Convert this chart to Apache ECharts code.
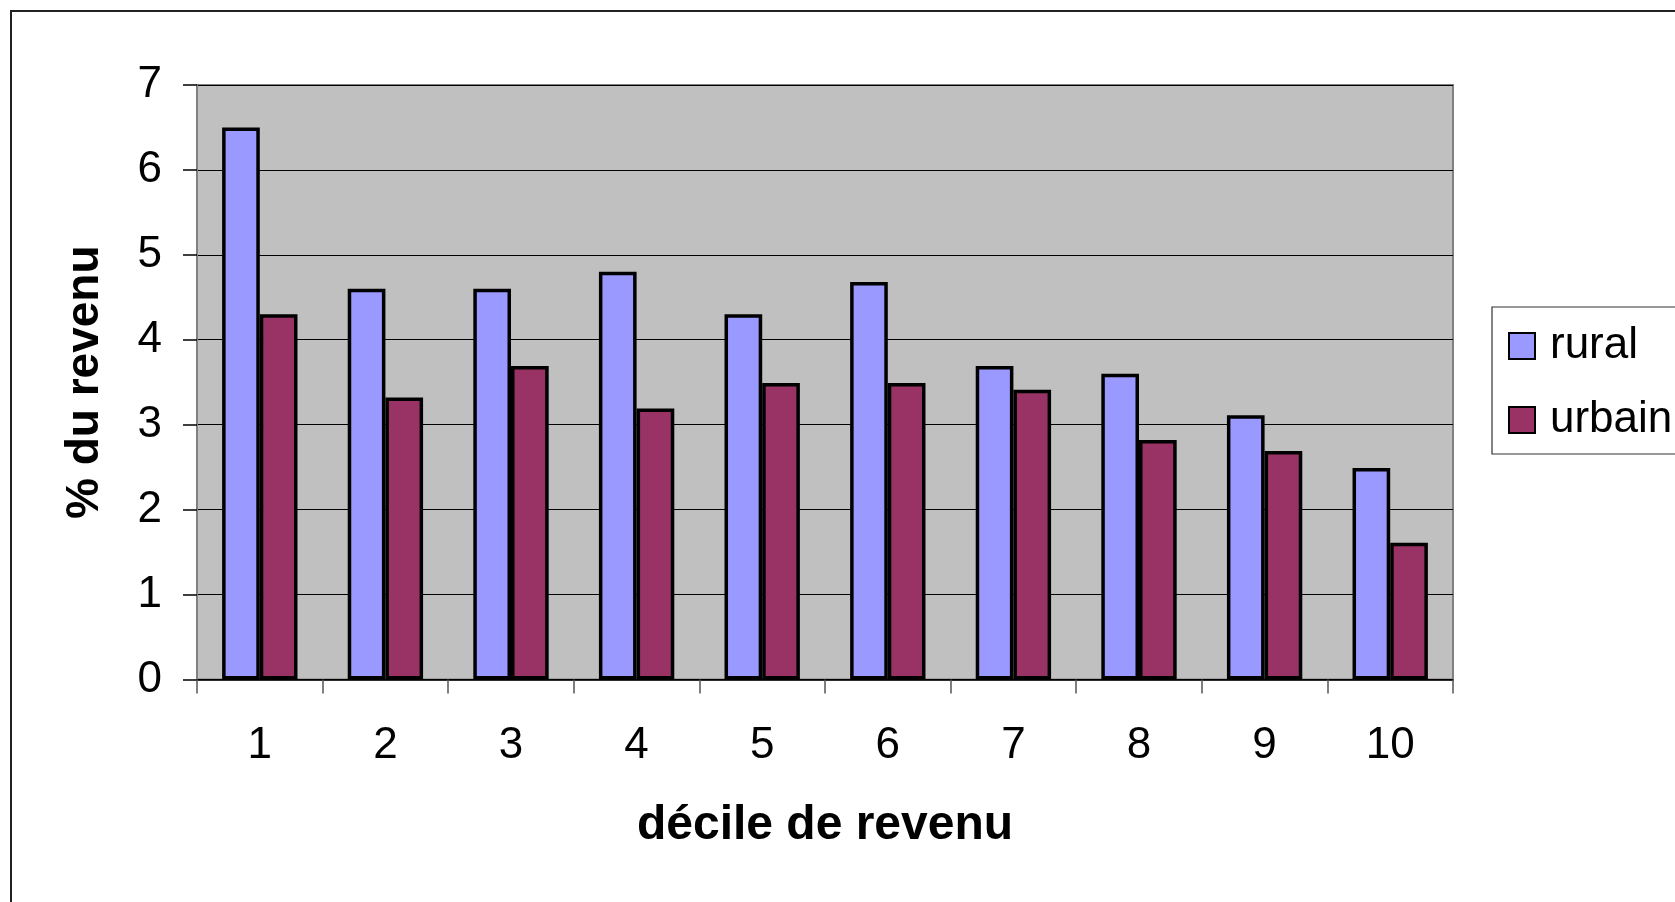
<!DOCTYPE html>
<html>
<head>
<meta charset="utf-8">
<script src="https://cdn.jsdelivr.net/npm/echarts@6/dist/echarts.min.js"></script>
<style>
html,body{margin:0;padding:0;background:#fff;}
#c{width:1675px;height:902px;}
</style>
</head>
<body>
<div id="c"></div>
<script>
const categories = ['1','2','3','4','5','6','7','8','9','10'];
const rural = [6.5, 4.6, 4.6, 4.8, 4.3, 4.68, 3.69, 3.6, 3.11, 2.49];
const urbain = [4.3, 3.32, 3.69, 3.19, 3.49, 3.49, 3.41, 2.82, 2.69, 1.61];
const seriesNames = ['rural', 'urbain'];
const yTicks = [0, 1, 2, 3, 4, 5, 6, 7];

const FONT = '"Liberation Sans", Arial, sans-serif';
const chart = echarts.init(document.getElementById('c'), null, {renderer: 'canvas'});
const barStyle = (color) => ({color: color, borderColor: '#000', borderWidth: 3.5});

chart.setOption({
  animation: false,
  backgroundColor: '#fff',
  textStyle: {fontFamily: FONT},
  graphic: [
    {type: 'rect', shape: {x: 11, y: 11, width: 3000, height: 3000}, style: {fill: 'none', stroke: '#222', lineWidth: 2}, z: 0},
    {type: 'rect', shape: {x: 1492, y: 307, width: 400, height: 147}, style: {fill: '#fff', stroke: '#333', lineWidth: 1.2}, z: 1}
  ],
  grid: {
    left: 197, top: 85, right: 222, bottom: 222.6,
    show: true, backgroundColor: '#C0C0C0', borderColor: '#808080', borderWidth: 2
  },
  legend: {
    orient: 'vertical',
    left: 1503, top: 317,
    itemWidth: 26, itemHeight: 26, itemGap: 26,
    icon: 'rect',
    data: seriesNames,
    textStyle: {fontSize: 44, fontFamily: FONT, color: '#000', lineHeight: 48, padding: [0, 0, 0, 10]},
    z: 5
  },
  xAxis: {
    type: 'category',
    data: categories,
    name: 'décile de revenu',
    nameLocation: 'middle',
    nameGap: 122,
    nameTextStyle: {fontSize: 48, fontWeight: 'bold', color: '#000', fontFamily: FONT},
    axisLine: {show: true, lineStyle: {color: '#000', width: 1.5}},
    axisTick: {show: true, length: 14, lineStyle: {color: '#555', width: 1.5}},
    axisLabel: {fontSize: 44, color: '#000', margin: 44, fontFamily: FONT},
    splitLine: {show: false}
  },
  yAxis: {
    type: 'value',
    min: yTicks[0], max: yTicks[yTicks.length - 1], interval: 1,
    name: '% du revenu',
    nameLocation: 'middle',
    nameGap: 89,
    nameRotate: 90,
    nameTextStyle: {fontSize: 46, fontWeight: 'bold', color: '#000', fontFamily: FONT},
    axisLine: {show: true, lineStyle: {color: '#808080', width: 2}},
    axisTick: {show: true, length: 14, lineStyle: {color: '#000', width: 1.5}},
    axisLabel: {fontSize: 44, color: '#000', margin: 35, fontFamily: FONT},
    splitLine: {show: true, lineStyle: {color: '#000', width: 1}}
  },
  series: [
    {name: seriesNames[0], type: 'bar', data: rural, barGap: '0%', barCategoryGap: '40%', itemStyle: barStyle('#9999FF')},
    {name: seriesNames[1], type: 'bar', data: urbain, barGap: '0%', barCategoryGap: '40%', itemStyle: barStyle('#993366')}
  ]
});
</script>
</body>
</html>
